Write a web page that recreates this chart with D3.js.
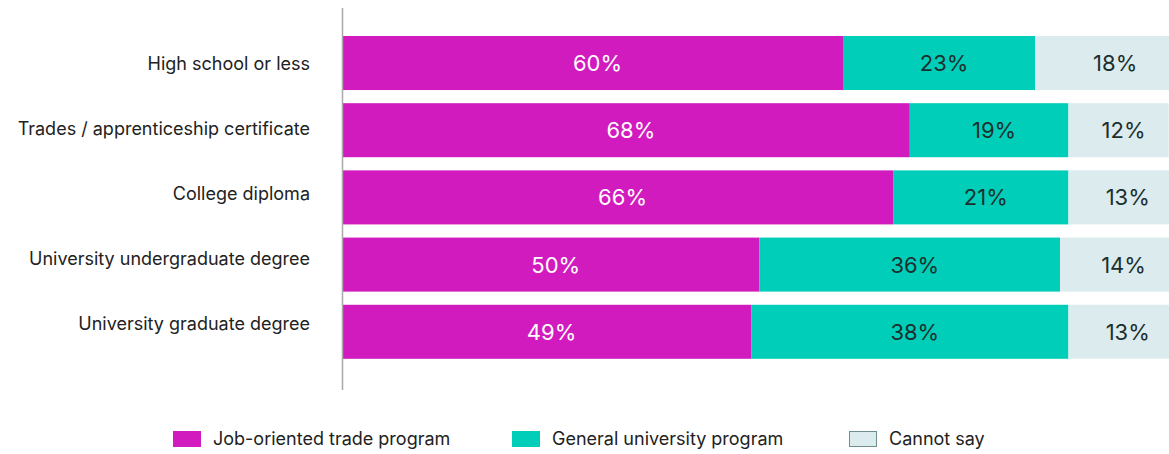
<!DOCTYPE html>
<html>
<head>
<meta charset="utf-8">
<script src="https://cdn.jsdelivr.net/npm/d3@7"></script>
<style>
  html, body { margin: 0; padding: 0; background: #fff; }
  svg { display: block; }
</style>
</head>
<body>
<script>
// ---- data ----
const categories = [
  "High school or less",
  "Trades / apprenticeship certificate",
  "College diploma",
  "University undergraduate degree",
  "University graduate degree"
];
const seriesNames = ["Job-oriented trade program", "General university program", "Cannot say"];
const jobOriented = [60, 68, 66, 50, 49];
const generalUniversity = [23, 19, 21, 36, 38];
const cannotSay = [18, 12, 13, 14, 13];
const seriesColors = ["#D21BBE", "#00CEB9", "#DCEBEE"];

// ---- layout ----
const W = 1169, H = 454;
const svg = d3.select("body").append("svg").attr("width", W).attr("height", H);
const font = "Inter, 'Liberation Sans', Arial, sans-serif";

const x = d3.scaleLinear().domain([0, 100]).range([342, 1177]);
const y = d3.scaleBand().domain(categories).range([36, 358.8]).paddingInner(0.196).paddingOuter(0);
const yLabel = d3.scalePoint().domain(categories).range([63.5, 324]);

const seriesData = [jobOriented, generalUniversity, cannotSay];
const rows = categories.map((c, i) => {
  const o = { cat: c };
  seriesNames.forEach((s, k) => o[s] = seriesData[k][i]);
  return o;
});
const stack = d3.stack().keys(seriesNames)(rows);

const gBars = svg.append("g");
stack.forEach((layer, k) => {
  const g = gBars.append("g");
  g.selectAll("rect").data(layer).join("rect")
    .attr("x", d => x(d[0]))
    .attr("y", d => y(d.data.cat))
    .attr("width", d => x(d[1]) - x(d[0]))
    .attr("height", y.bandwidth())
    .attr("fill", seriesColors[k]);
  g.selectAll("text").data(layer).join("text")
    .attr("x", d => (x(d[0]) + x(d[1])) / 2 + 5)
    .attr("y", d => y(d.data.cat) + y.bandwidth() / 2)
    .attr("dy", "0.36em")
    .attr("text-anchor", "middle")
    .attr("font-family", font)
    .attr("font-size", 22)
    .attr("fill", k === 0 ? "#ffffff" : "#1b302e")
    .text(d => Math.round(d[1] - d[0]) + "%");
});

// axis line
const yAxis = d3.axisLeft(y).tickSize(0).tickFormat("");
svg.append("g").attr("transform", "translate(342.5,0)").call(yAxis)
  .call(g => g.select(".domain").attr("d", "M0,8V390").attr("stroke", "#a9a9a9").attr("stroke-width", 1.5));

// category labels
svg.append("g").selectAll("text").data(categories).join("text")
  .attr("x", 310)
  .attr("y", d => yLabel(d))
  .attr("dy", "0.36em")
  .attr("text-anchor", "end")
  .attr("font-family", font)
  .attr("font-size", 18)
  .attr("fill", "#222222")
  .text(d => d);

// legend
const legendX = [173, 512, 849];
const lg = svg.append("g");
seriesNames.forEach((s, k) => {
  lg.append("rect")
    .attr("x", legendX[k] + (k === 2 ? 0.5 : 0)).attr("y", 431 + (k === 2 ? 0.5 : 0))
    .attr("width", k === 2 ? 27 : 28).attr("height", k === 2 ? 15 : 16)
    .attr("fill", seriesColors[k])
    .attr("stroke", k === 2 ? "#6f8f8f" : "none")
    .attr("stroke-width", 1);
  lg.append("text")
    .attr("x", legendX[k] + 40).attr("y", 439)
    .attr("dy", "0.36em")
    .attr("font-family", font)
    .attr("font-size", 18)
    .attr("fill", "#222222")
    .text(s);
});
</script>
</body>
</html>
